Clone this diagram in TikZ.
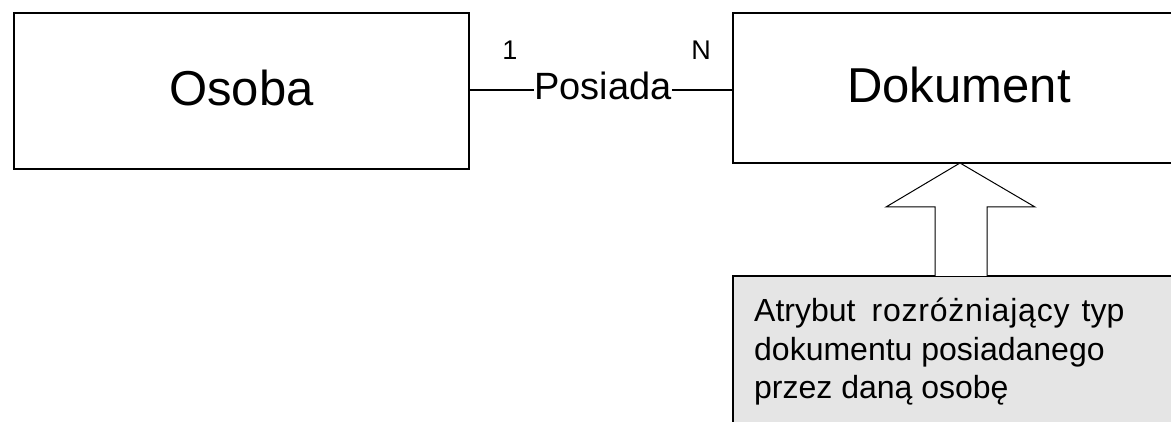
\documentclass[tikz,border=0pt]{standalone}
\usepackage{fontspec}
\setmainfont{Liberation Sans}
\begin{document}
\begin{tikzpicture}[x=1pt,y=-1pt,
  entity/.style={draw=black,line width=1.3pt,fill=white},
  conn/.style={draw=black,line width=1.3pt},
  bigtxt/.style={font=\fontsize{49}{58}\selectfont,inner sep=0pt},
  reltxt/.style={font=\fontsize{38}{44}\selectfont,inner sep=0pt},
  cardtxt/.style={font=\fontsize{27}{32}\selectfont,inner sep=0pt},
  notetxt/.style={font=\fontsize{32}{38}\selectfont,inner sep=0pt,anchor=base west},
  notebox/.style={draw=black,line width=1.3pt,fill=black!10},
  hollowarrow/.style={draw=black,line width=1pt,fill=white,line join=miter}]
\useasboundingbox (0,0) rectangle (1171,422);
\begin{scope}
\clip (0,0) rectangle (1171,422);
% entity boxes
\draw[entity] (14,13) rectangle (469,169);
\coordinate (osR) at (469,90);
\node[bigtxt] (osoba) at (241.5,88) {Osoba};
\draw[entity] (733,13) rectangle (1186,163);
\coordinate (dokL) at (733,90);
\coordinate (dokB) at (960,163);
\node[bigtxt] (dokument) at (959,85) {Dokument};
% relationship
\node[reltxt,anchor=base] (posiada) at (603,100) {Posiada};
\draw[conn] (osR) -- (posiada.west |- osR);
\draw[conn] (posiada.east |- dokL) -- (dokL);
\node[cardtxt,anchor=base] (one) at (510,60) {1};
\node[cardtxt,anchor=base] (en) at (701,60) {N};
% note box
\draw[notebox] (733,276) rectangle (1190,440);
\coordinate (noteT) at (960,276);
\node[notetxt] (l1) at (754,322) {Atrybut\hspace{16pt}{\addfontfeature{LetterSpace=2.5}rozróżniający}\hspace{12pt}typ};
\node[notetxt] (l2) at (754,360) {dokumentu posiadanego};
\node[notetxt] (l3) at (754,398) {przez daną osobę};
% hollow arrow
\draw[hollowarrow] (935,276) -- (935,207) -- (886,207) -- (dokB) -- (1035,207) -- (987,207) -- (987,276);
\end{scope}
\end{tikzpicture}
\end{document}
